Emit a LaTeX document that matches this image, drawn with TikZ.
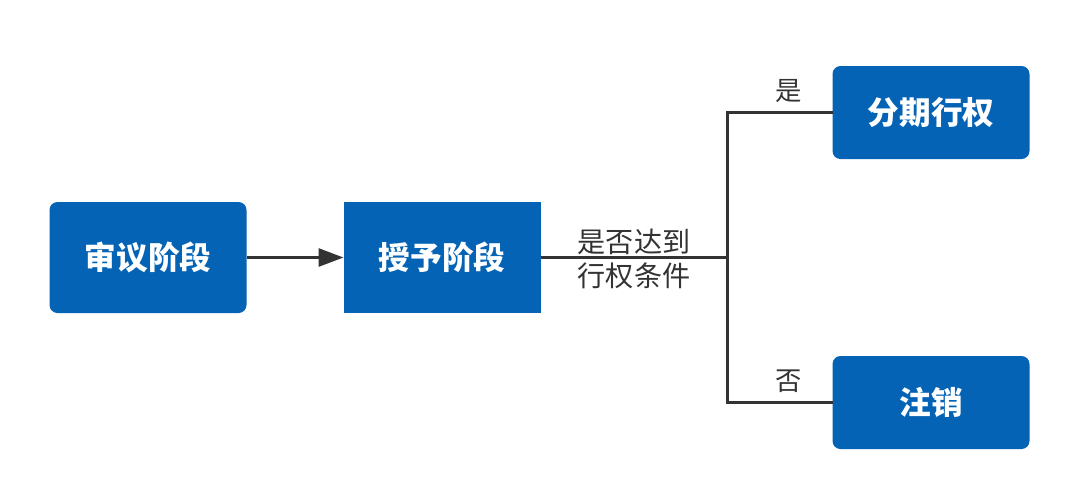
\documentclass[tikz,border=0pt]{standalone}
\usepackage{fontspec}
\newfontfamily\cjk{Noto Sans CJK SC}
\usepackage{tikz}
\usetikzlibrary{positioning, arrows.meta}

\definecolor{boxblue}{RGB}{5,99,181}
\definecolor{linegray}{RGB}{51,51,51}

\tikzset{
  stage/.style = {fill=boxblue, draw=none, text=white, inner sep=0pt, outer sep=0pt,
                  minimum width=3.94cm, minimum height=2.22cm,
                  font=\cjk\bfseries\fontsize{18}{20}\selectfont},
  result/.style = {stage, rounded corners=0.16cm, minimum height=1.86cm},
  link/.style = {draw=linegray, line width=1.6pt},
  cond/.style = {text=linegray, font=\cjk\fontsize{15}{17}\selectfont}
}

\begin{document}
\begin{tikzpicture}
    \useasboundingbox (0,0) rectangle (21.6,-9.98);

    \node[stage, rounded corners=0.16cm] (shenyi) at (2.96,-5.15) {审议阶段};
    \node[stage, right=1.94cm of shenyi] (shouyu) {授予阶段};
    \coordinate[right=3.74cm of shouyu] (branch);
    \coordinate[above=2.9cm of branch] (up);
    \coordinate[below=2.9cm of branch] (down);
    \node[result, right=2.1cm of up, anchor=west] (xingquan) {分期行权};
    \node[result, right=2.1cm of down, anchor=west] (zhuxiao) {注销};

    % connectors
    \draw[link, -{Triangle[length=0.5cm, width=0.36cm]}] (shenyi) -- (shouyu);
    \draw[link] (shouyu) -- (branch)
          node[cond, pos=0.5, yshift=-1pt, align=left, font=\cjk\fontsize{16}{19.5}\selectfont] {是否达到\\行权条件};
    \draw[link] (xingquan.west) -- (up) -- (down) -- (zhuxiao.west);
    \path (up) -- (xingquan.west) node[cond, pos=0.58, above=2pt] {是};
    \path (down) -- (zhuxiao.west) node[cond, pos=0.58, above=2pt] {否};
  \end{tikzpicture}
\end{document}
